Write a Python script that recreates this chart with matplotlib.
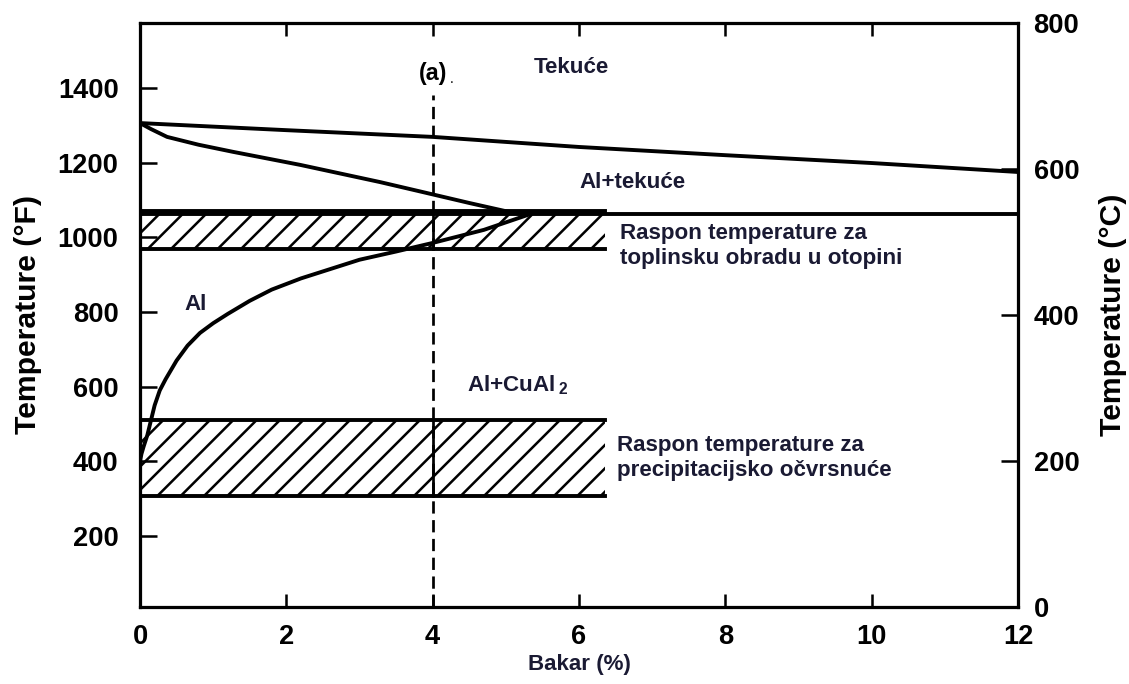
import numpy as np
import matplotlib
matplotlib.use("Agg")
import matplotlib.pyplot as plt

# phase diagram Al-Cu, temperatures in F
liq_x = [0, 2, 4, 6, 8, 10, 12]
liq_f = [1306, 1287, 1269, 1242, 1220, 1199, 1175]

sol_x = [0, 0.15, 0.37, 0.8, 1.27, 2.19, 3.28, 3.87, 4.5, 5.0, 5.2]
sol_f = [1306, 1290, 1269, 1248, 1229, 1194, 1148, 1121, 1092, 1070, 1063]

solv_x = [0, 0.02, 0.05, 0.1, 0.15, 0.2, 0.27, 0.35, 0.5, 0.65, 0.82, 1.0, 1.2,
          1.5, 1.8, 2.2, 2.6, 3.0, 3.5, 4.0, 4.7, 5.3]
solv_f = [400, 420, 440, 470, 510, 550, 590, 620, 670, 710, 744, 770, 795,
          830, 860, 890, 915, 940, 962, 985, 1020, 1060]

eut_x = [0, 12]
eut_f = [1063, 1063]

# heat treatment ranges
band_x = [0, 6.35]
sol_band = [968, 1070]      # solution treatment
prec_band = [307, 511]      # precipitation hardening

alloy_x = 4.0
dash_top = 1380

xticks = [0, 2, 4, 6, 8, 10, 12]
fticks = [200, 400, 600, 800, 1000, 1200, 1400]
cticks = [0, 200, 400, 600, 800]

DPI = 140
plt.rcParams['font.family'] = ['Liberation Sans', 'DejaVu Sans']
plt.rcParams['hatch.linewidth'] = 1.3
plt.rcParams['mathtext.fontset'] = 'custom'
plt.rcParams['mathtext.rm'] = 'Liberation Sans:bold'
plt.rcParams['mathtext.it'] = 'Liberation Sans:bold'
plt.rcParams['mathtext.bf'] = 'Liberation Sans:bold'

fig = plt.figure(figsize=(1129 / DPI, 684 / DPI), dpi=DPI)
ax = fig.add_axes([140 / 1129, 1 - 607 / 684, (1018 - 140) / 1129, (607 - 23) / 684])
ax.set_xlim(0, 12)
ax.set_ylim(10, 1574)

lw = 2.0
txtc = '#1a1a33'

ax.plot(liq_x, liq_f, color='k', lw=lw)
ax.plot(sol_x, sol_f, color='k', lw=lw)
ax.plot(solv_x, solv_f, color='k', lw=lw)
ax.plot(eut_x, eut_f, color='k', lw=lw)

for band in (sol_band, prec_band):
    ax.fill_between(band_x, band[0], band[1], facecolor='none', edgecolor='k',
                    hatch='//', linewidth=0)
    ax.plot(band_x, [band[0], band[0]], color='k', lw=lw)
    ax.plot(band_x, [band[1], band[1]], color='k', lw=lw)
    ax.plot([alloy_x, alloy_x], band, color='k', lw=1.4)

ax.plot([alloy_x, alloy_x], [10, dash_top], color='k', lw=1.4, dashes=(4.5, 2.4))

# labels in the diagram
ax.text(5.9, 1454, 'Tekuće', ha='center', va='center', fontsize=11.5,
        fontweight='bold', color=txtc)
ax.text(alloy_x, 1440, '(a)', ha='center', va='center', fontsize=12,
        fontweight='bold', color='k')
ax.annotate('.', xy=(alloy_x, 1440), xytext=(9, -3), textcoords='offset points',
            fontsize=7, color='k', ha='left', va='center')
ax.text(6.01, 1146, 'Al+tekuće', ha='left', va='center', fontsize=11.5,
        fontweight='bold', color=txtc)
ax.text(6.56, 977, 'Raspon temperature za\ntoplinsku obradu u otopini',
        ha='left', va='center', fontsize=11.5, fontweight='bold', color=txtc,
        linespacing=1.25)
ax.text(0.61, 819, 'Al', ha='left', va='center', fontsize=11.5,
        fontweight='bold', color=txtc)
ax.text(4.47, 604, 'Al+CuAl$\\,_2$', ha='left', va='center', fontsize=11.5,
        fontweight='bold', color=txtc)
ax.text(6.52, 409, 'Raspon temperature za\nprecipitacijsko očvrsnuće',
        ha='left', va='center', fontsize=11.5, fontweight='bold', color=txtc,
        linespacing=1.25)

ax.set_xticks(xticks)
ax.set_yticks(fticks)
ax.tick_params(axis='x', direction='in', length=6.5, width=1.3, pad=9,
               labelsize=14, top=True)
ax.tick_params(axis='y', direction='in', length=8.5, width=1.3, pad=11,
               labelsize=14)
for lab in ax.get_xticklabels() + ax.get_yticklabels():
    lab.set_fontweight('bold')
ax.set_xlabel('Bakar (%)', fontsize=11.5, fontweight='bold', color=txtc, labelpad=2)
ax.set_ylabel('Temperature (°F)', fontsize=15.5, fontweight='bold', labelpad=8)

ax2 = ax.twinx()
ax2.set_ylim(0, 800)
ax2.set_yticks(cticks)
ax2.tick_params(axis='y', direction='in', length=8.5, width=1.3, pad=8,
                labelsize=14)
for lab in ax2.get_yticklabels():
    lab.set_fontweight('bold')
ax2.set_ylabel('Temperature (°C)', fontsize=15.5, fontweight='bold', labelpad=10)

for a in (ax, ax2):
    for s in a.spines.values():
        s.set_linewidth(1.6)

fig.savefig('out.png', dpi=DPI)
